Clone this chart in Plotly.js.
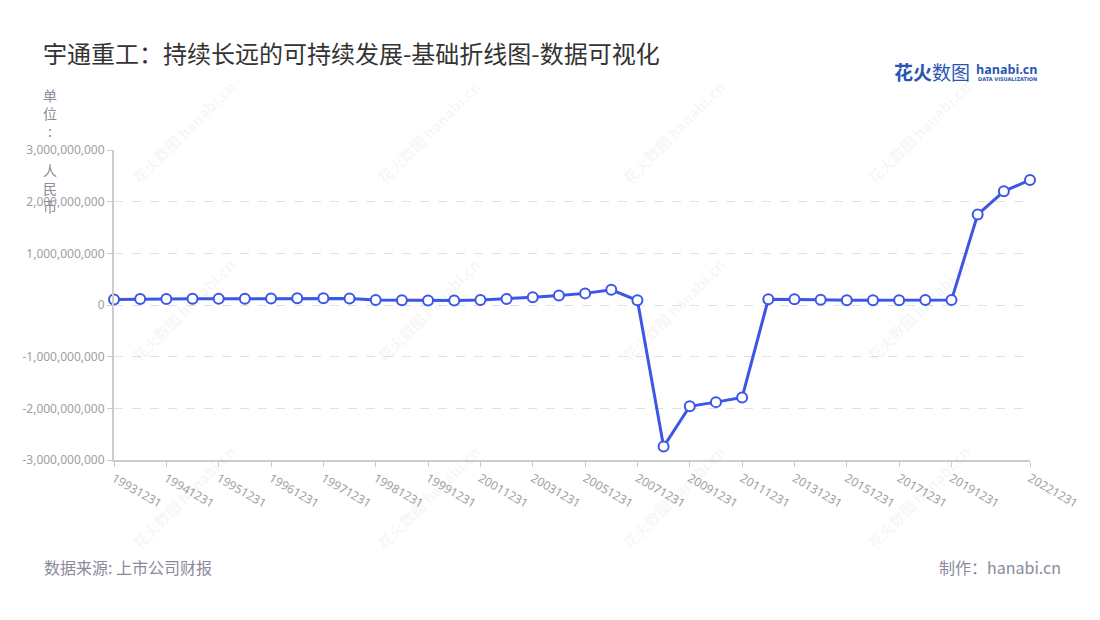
<!DOCTYPE html>
<html>
<head>
<meta charset="utf-8">
<script src="https://cdn.plot.ly/plotly-3.0.1.min.js"></script>
<style>html,body{margin:0;padding:0;background:#fff;}#chart{width:1100px;height:620px;}</style>
</head>
<body>
<div id="chart"></div>
<script>
// ---- data ----
const dates = [
  "19931231","19940630","19941231","19950630","19951231","19960630","19961231","19970630",
  "19971231","19980630","19981231","19990630","19991231","20001231","20011231","20021231",
  "20031231","20041231","20051231","20061231","20071231","20081231","20091231","20101231",
  "20111231","20121231","20131231","20141231","20151231","20161231","20171231","20181231",
  "20191231","20201231","20211231","20221231"
];
const values = [
  105e6, 115e6, 115e6, 120e6, 120e6, 122e6, 128e6, 130e6,
  130e6, 128e6, 95e6, 92e6, 88e6, 88e6, 98e6, 118e6,
  150e6, 185e6, 225e6, 295e6, 90e6, -2740e6, -1960e6, -1880e6,
  -1790e6, 110e6, 110e6, 100e6, 90e6, 90e6, 90e6, 95e6,
  95e6, 1750e6, 2200e6, 2420e6
];
const xTickLabels = [
  "19931231","19941231","19951231","19961231","19971231","19981231","19991231",
  "20011231","20031231","20051231","20071231","20091231","20111231","20131231",
  "20151231","20171231","20191231","20221231"
];
const yTickVals = [-3e9, -2e9, -1e9, 0, 1e9, 2e9, 3e9];
const yTickText = ["-3,000,000,000","-2,000,000,000","-1,000,000,000","0","1,000,000,000","2,000,000,000","3,000,000,000"];
const titleText = "宇通重工：持续长远的可持续发展-基础折线图-数据可视化";
const sourceText = "数据来源: 上市公司财报";
const makerText = "制作：hanabi.cn";

// ---- chart ----
const FONT = '"Noto Sans CJK SC", "Noto Sans", sans-serif';
const lineColor = '#3c56e6';

const trace = {
  type: 'scatter',
  mode: 'lines+markers',
  x: dates,
  y: values,
  line: {color: lineColor, width: 3},
  marker: {size: 10, color: '#ffffff', line: {color: lineColor, width: 2}},
  cliponaxis: false,
  hoverinfo: 'x+y'
};

const annotations = [];
// watermarks
const wmX = [183, 428, 673, 918];
const wmY = [132, 310, 497];
wmY.forEach(function(yy){
  wmX.forEach(function(xx){
    annotations.push({
      xref: 'paper', yref: 'paper',
      x: (xx - 114) / 916, y: (460 - yy) / 310,
      xanchor: 'center', yanchor: 'middle',
      text: '<b>花火数图 hanabi.cn</b>',
      showarrow: false, textangle: -45,
      font: {family: FONT, size: 15, color: 'rgba(0,0,0,0.055)'}
    });
  });
});
// y axis name
annotations.push({
  xref: 'paper', yref: 'paper', x: (50 - 114) / 916, y: (460 - 113) / 310,
  xanchor: 'center', yanchor: 'middle', showarrow: false, align: 'center',
  text: '单<br>位<br>:', font: {family: FONT, size: 14, color: '#8c8c9c'}
});
annotations.push({
  xref: 'paper', yref: 'paper', x: (50 - 114) / 916, y: (460 - 188) / 310,
  xanchor: 'center', yanchor: 'middle', showarrow: false, align: 'center',
  text: '人<br>民<br>币', font: {family: FONT, size: 14, color: '#8c8c9c'}
});
// footer
annotations.push({
  xref: 'paper', yref: 'paper', x: (42 - 114) / 916, y: (460 - 567) / 310,
  xanchor: 'left', yanchor: 'middle', showarrow: false,
  text: sourceText, font: {family: FONT, size: 16, color: '#8a8a9a'}
});
annotations.push({
  xref: 'paper', yref: 'paper', x: (1063 - 114) / 916, y: (460 - 567) / 310,
  xanchor: 'right', yanchor: 'middle', showarrow: false,
  text: makerText, font: {family: FONT, size: 16, color: '#8a8a9a'}
});
// logo
annotations.push({
  xref: 'paper', yref: 'paper', x: (892 - 114) / 916, y: (460 - 72) / 310,
  xanchor: 'left', yanchor: 'middle', showarrow: false,
  text: '<b>花火</b>数图', font: {family: FONT, size: 19, color: '#2a55b5'}
});
annotations.push({
  xref: 'paper', yref: 'paper', x: (974 - 114) / 916, y: (460 - 69) / 310,
  xanchor: 'left', yanchor: 'middle', showarrow: false,
  text: '<b>hanabi.cn</b>', font: {family: '"Open Sans", sans-serif', size: 12.5, color: '#2a55b5'}
});
annotations.push({
  xref: 'paper', yref: 'paper', x: (976 - 114) / 916, y: (460 - 79) / 310,
  xanchor: 'left', yanchor: 'middle', showarrow: false,
  text: '<b>DATA VISUALIZATION</b>', font: {family: '"DejaVu Sans", sans-serif', size: 5, color: '#2a55b5'}
});

const layout = {
  width: 1100, height: 620,
  paper_bgcolor: '#ffffff', plot_bgcolor: '#ffffff',
  margin: {l: 114, r: 70, t: 150, b: 160, pad: 0},
  showlegend: false,
  font: {family: FONT, color: '#999999'},
  title: {
    text: titleText,
    x: 43 / 1100, xanchor: 'left', xref: 'container',
    y: 1 - 55 / 620, yanchor: 'middle', yref: 'container',
    font: {family: FONT, size: 24, color: '#333333'}
  },
  xaxis: {
    type: 'category',
    categoryorder: 'array', categoryarray: dates,
    range: [0, dates.length - 1],
    tickmode: 'array', tickvals: xTickLabels, ticktext: xTickLabels,
    tickangle: 30,
    ticks: 'outside', ticklen: 5, tickcolor: '#cccccc', tickwidth: 1,
    showline: true, linecolor: '#cccccc', linewidth: 2,
    showgrid: false, zeroline: false,
    tickfont: {family: '"Noto Sans", sans-serif', size: 12, color: '#a0a0a0'},
    fixedrange: true
  },
  yaxis: {
    range: [-3e9, 3e9],
    tickmode: 'array', tickvals: yTickVals, ticktext: yTickText,
    ticks: 'outside', ticklen: 5, tickcolor: '#cccccc', tickwidth: 1,
    showline: true, linecolor: '#cccccc', linewidth: 2,
    showgrid: true, gridcolor: '#e0e0e0', griddash: 'dash', gridwidth: 1,
    zeroline: false,
    tickfont: {family: '"Noto Sans", sans-serif', size: 12, color: '#a0a0a0'},
    fixedrange: true
  },
  annotations: annotations
};

Plotly.newPlot('chart', [trace], layout, {displayModeBar: false, responsive: false});
</script>
</body>
</html>
